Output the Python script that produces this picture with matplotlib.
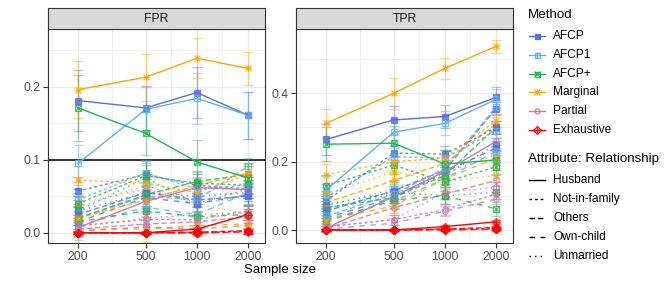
import numpy as np
import matplotlib.pyplot as plt
from matplotlib.lines import Line2D

plt.rcParams['font.family'] = ['Liberation Sans', 'DejaVu Sans']

W, H = 664, 285

sizes = [200, 500, 1000, 2000]
methods = ['AFCP', 'AFCP1', 'AFCP+', 'Marginal', 'Partial', 'Exhaustive']
relationships = ['Husband', 'Not-in-family', 'Others', 'Own-child', 'Unmarried']

# values[method] = one list per relationship (Husband, Not-in-family, Others, Own-child, Unmarried)
fpr = {
    'AFCP':       [[0.181, 0.171, 0.192, 0.161], [0.057, 0.080, 0.065, 0.060], [0.025, 0.055, 0.045, 0.050],
                   [0.015, 0.048, 0.040, 0.052], [0.030, 0.055, 0.050, 0.055]],
    'AFCP1':      [[0.095, 0.169, 0.184, 0.161], [0.045, 0.082, 0.060, 0.065], [0.020, 0.050, 0.045, 0.091],
                   [0.010, 0.035, 0.025, 0.055], [0.035, 0.065, 0.040, 0.050]],
    'AFCP+':      [[0.171, 0.136, 0.097, 0.075], [0.040, 0.078, 0.068, 0.065], [0.020, 0.052, 0.070, 0.080],
                   [0.015, 0.030, 0.022, 0.025], [0.030, 0.075, 0.040, 0.060]],
    'Marginal':   [[0.196, 0.213, 0.239, 0.225], [0.072, 0.068, 0.055, 0.080], [0.020, 0.045, 0.065, 0.082],
                   [0.005, 0.005, 0.010, 0.012], [0.040, 0.060, 0.040, 0.025]],
    'Partial':    [[0.007, 0.043, 0.062, 0.059], [0.010, 0.018, 0.018, 0.030], [0.005, 0.012, 0.015, 0.022],
                   [0.002, 0.008, 0.005, 0.010], [0.008, 0.020, 0.025, 0.028]],
    'Exhaustive': [[0.000, 0.000, 0.005, 0.025], [0.000, 0.000, 0.000, 0.002], [0.000, 0.000, 0.001, 0.003],
                   [0.000, 0.000, 0.000, 0.001], [0.000, 0.000, 0.000, 0.002]],
}

tpr = {
    'AFCP':       [[0.265, 0.322, 0.332, 0.388], [0.085, 0.225, 0.222, 0.300], [0.055, 0.115, 0.175, 0.355],
                   [0.035, 0.095, 0.170, 0.240], [0.065, 0.105, 0.160, 0.250]],
    'AFCP1':      [[0.117, 0.286, 0.312, 0.382], [0.095, 0.215, 0.210, 0.290], [0.040, 0.105, 0.180, 0.360],
                   [0.030, 0.085, 0.150, 0.230], [0.070, 0.120, 0.165, 0.220]],
    'AFCP+':      [[0.251, 0.254, 0.193, 0.205], [0.130, 0.190, 0.140, 0.185], [0.065, 0.095, 0.160, 0.300],
                   [0.025, 0.088, 0.100, 0.062], [0.075, 0.110, 0.100, 0.110]],
    'Marginal':   [[0.312, 0.400, 0.473, 0.537], [0.162, 0.200, 0.210, 0.320], [0.080, 0.145, 0.195, 0.310],
                   [0.030, 0.070, 0.150, 0.210], [0.105, 0.170, 0.140, 0.160]],
    'Partial':    [[0.005, 0.098, 0.171, 0.259], [0.010, 0.030, 0.060, 0.105], [0.005, 0.065, 0.105, 0.145],
                   [0.003, 0.020, 0.055, 0.090], [0.008, 0.030, 0.110, 0.125]],
    'Exhaustive': [[0.000, 0.000, 0.010, 0.024], [0.000, 0.000, 0.002, 0.004], [0.000, 0.000, 0.003, 0.008],
                   [0.000, 0.000, 0.000, 0.002], [0.000, 0.000, 0.001, 0.003]],
}

# error bar half widths: Husband series and the other relationships
fpr_err_husband = {
    'AFCP': [0.042, 0.030, 0.035, 0.032], 'AFCP1': [0.025, 0.030, 0.035, 0.032],
    'AFCP+': [0.045, 0.030, 0.030, 0.020], 'Marginal': [0.039, 0.032, 0.027, 0.022],
    'Partial': [0.008, 0.015, 0.015, 0.012], 'Exhaustive': [0.002, 0.002, 0.005, 0.008],
}
fpr_err_other = {
    'AFCP': [0.020, 0.018, 0.015, 0.012], 'AFCP1': [0.020, 0.018, 0.015, 0.012],
    'AFCP+': [0.020, 0.018, 0.015, 0.012], 'Marginal': [0.020, 0.018, 0.015, 0.012],
    'Partial': [0.008, 0.010, 0.010, 0.008], 'Exhaustive': [0.001, 0.001, 0.002, 0.003],
}
tpr_err_husband = {
    'AFCP': [0.045, 0.040, 0.035, 0.030], 'AFCP1': [0.040, 0.040, 0.035, 0.030],
    'AFCP+': [0.050, 0.050, 0.040, 0.030], 'Marginal': [0.043, 0.045, 0.030, 0.020],
    'Partial': [0.005, 0.020, 0.020, 0.025], 'Exhaustive': [0.002, 0.002, 0.004, 0.006],
}
tpr_err_other = {
    'AFCP': [0.030, 0.025, 0.025, 0.020], 'AFCP1': [0.030, 0.025, 0.025, 0.020],
    'AFCP+': [0.030, 0.025, 0.025, 0.020], 'Marginal': [0.030, 0.025, 0.025, 0.020],
    'Partial': [0.010, 0.015, 0.015, 0.015], 'Exhaustive': [0.002, 0.002, 0.003, 0.004],
}

colors = {'AFCP': '#5a6ce3', 'AFCP1': '#5ab4ea', 'AFCP+': '#1fb84e',
          'Marginal': '#ffa500', 'Partial': '#cc79a7', 'Exhaustive': '#ff0000'}
# (marker, filled) pieces drawn on top of each other
markers = {'AFCP': [('s', True)], 'AFCP1': [('s', False), ('+', True)],
           'AFCP+': [('s', False), ('x', True)], 'Marginal': [('+', True), ('x', True)],
           'Partial': [('o', False)], 'Exhaustive': [('D', False), ('+', True)]}
dashes = {'Husband': None, 'Not-in-family': (2, 2), 'Others': (4, 2),
          'Own-child': (4, 4), 'Unmarried': (1, 3)}


def px(x, y, w, h):
    return [x / W, 1 - (y + h) / H, w / W, h / H]


def marker_lines(x, y, method, alpha=1.0, ms=4.0, **kw):
    out = []
    for m, filled in markers[method]:
        size = ms if m in 'sDo' else ms * 1.15
        out.append(Line2D(x, y, linestyle='none', marker=m, markersize=size,
                          markerfacecolor=colors[method] if filled else 'none',
                          markeredgecolor=colors[method], markeredgewidth=0.9,
                          alpha=alpha, **kw))
    return out


def panel(ax, data, err_h, err_o, ylim, yticks, yminor, title, hline=None):
    ax.set_xscale('log')
    ax.set_xlim(133, 2518)
    ax.set_ylim(*ylim)
    ax.set_xticks(sizes)
    ax.set_xticklabels([str(s) for s in sizes])
    ax.xaxis.set_minor_locator(plt.FixedLocator([141, 316, 707, 1414]))
    ax.xaxis.set_minor_formatter(plt.NullFormatter())
    ax.set_yticks(yticks)
    ax.set_yticklabels(['%.1f' % t for t in yticks])
    ax.set_yticks(yminor, minor=True)
    ax.grid(which='major', color='#ebebeb', lw=1.0)
    ax.grid(which='minor', color='#ebebeb', lw=0.5)
    ax.set_axisbelow(True)
    ax.tick_params(which='major', length=3.5, width=0.8, color='#333333',
                   labelsize=8.8, labelcolor='#4d4d4d', pad=2)
    ax.tick_params(which='minor', length=0)
    for s in ax.spines.values():
        s.set_color('#333333')
        s.set_linewidth(0.8)
    if hline is not None:
        ax.axhline(hline, color='black', lw=1.1, zorder=1.5)

    for rel in relationships[::-1]:
        ridx = relationships.index(rel)
        for method in methods:
            y = data[method][ridx]
            e = (err_h if rel == 'Husband' else err_o)[method]
            ax.errorbar(sizes, y, yerr=e, fmt='none', ecolor=colors[method],
                        elinewidth=0.9, capsize=3.6, capthick=0.9, alpha=0.45, zorder=2)
    for rel in relationships[::-1]:
        ridx = relationships.index(rel)
        for method in methods:
            y = data[method][ridx]
            line, = ax.plot(sizes, y, color=colors[method], lw=1.0,
                            alpha=1.0 if rel == 'Husband' else 0.85, zorder=3)
            if dashes[rel] is not None:
                line.set_dashes(dashes[rel])
            for art in marker_lines(sizes, y, method, alpha=0.8, zorder=4):
                art.set_clip_on(False)
                ax.add_line(art)

    # strip on top of the panel
    pos = ax.get_position()
    sax = ax.figure.add_axes([pos.x0, pos.y1, pos.width, 21 / H])
    sax.set_xticks([])
    sax.set_yticks([])
    sax.set_facecolor('#d9d9d9')
    for s in sax.spines.values():
        s.set_color('#333333')
        s.set_linewidth(0.8)
    sax.text(0.5, 0.5, title, ha='center', va='center', fontsize=8.8, color='#1a1a1a',
             transform=sax.transAxes)


fig = plt.figure(figsize=(W / 100, H / 100), dpi=100)

ax1 = fig.add_axes(px(48, 29, 217, 214))
panel(ax1, fpr, fpr_err_husband, fpr_err_other, (-0.014, 0.279),
      [0.0, 0.1, 0.2], [0.05, 0.15, 0.25], 'FPR', hline=0.1)

ax2 = fig.add_axes(px(296, 29, 217, 214))
panel(ax2, tpr, tpr_err_husband, tpr_err_other, (-0.038, 0.588),
      [0.0, 0.2, 0.4], [0.1, 0.3, 0.5], 'TPR')

fig.text(280.5 / W, 1 - 270 / H, 'Sample size', ha='center', va='center', fontsize=9.5,
         color='black')

# legends drawn by hand
tr = fig.transFigure


def fx(x):
    return x / W


def fy(y):
    return 1 - y / H


fig.text(fx(528), fy(15), 'Method', fontsize=9.6, va='center', ha='left')
for i, method in enumerate(methods):
    yy = 36 + i * 18.8
    fig.add_artist(Line2D([fx(529), fx(545)], [fy(yy), fy(yy)], color=colors[method],
                          lw=1.0, transform=tr))
    for art in marker_lines([fx(537)], [fy(yy)], method, ms=3.6, transform=tr):
        fig.add_artist(art)
    fig.text(fx(553), fy(yy), method, fontsize=8.6, va='center', ha='left')

fig.text(fx(528), fy(159), 'Attribute: Relationship', fontsize=9.6, va='center', ha='left')
for i, rel in enumerate(relationships):
    yy = 180 + i * 19
    ln = Line2D([fx(529), fx(545)], [fy(yy), fy(yy)], color='black', lw=1.0, transform=tr)
    if dashes[rel] is not None:
        ln.set_dashes(dashes[rel])
    fig.add_artist(ln)
    fig.text(fx(553), fy(yy), rel, fontsize=8.6, va='center', ha='left')

fig.savefig('out.png', dpi=100)
